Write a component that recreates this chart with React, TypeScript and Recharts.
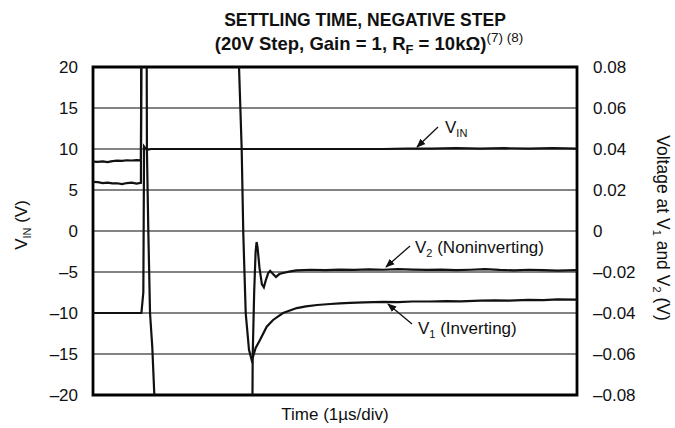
import React from "react";
import { CartesianGrid, Line, LineChart, ReferenceArea, XAxis, YAxis } from "recharts";

// time in divisions (1 µs/div), left axis in V, right axis in V
const timeTicks = [0, 1, 2, 3, 4, 5, 6, 7, 8, 9, 10];
const vinTicks = [-20, -15, -10, -5, 0, 5, 10, 15, 20];
const outTicks = [-0.08, -0.06, -0.04, -0.02, 0, 0.02, 0.04, 0.06, 0.08];

const vinTime = [0, 0.5, 1.0, 1.04, 1.055, 1.08, 1.12, 1.2, 2, 3, 4, 5, 6, 6.5, 7, 7.5, 8, 8.5, 9, 9.5, 10];
const vinVolts = [-10, -10, -10, -7.5, 10.3, 10.1, 9.9, 10, 10, 10, 10, 10, 10, 10.05, 10.05, 10.1, 10.05, 10.1, 10.05, 10.1, 10.05];

// V1 (inverting)
const v1Time = [
  0, 0.1, 0.2, 0.3, 0.4, 0.5, 0.6, 0.7, 0.8, 0.9, 0.99, 1.0, 3.0, 3.017, 3.072, 3.105, 3.155, 3.223, 3.279,
  3.31, 3.36, 3.45, 3.589, 3.72, 3.926, 4.21, 4.4, 4.63, 4.9, 5.1, 5.31, 5.6, 6.0, 6.3, 6.6, 6.96, 7.3, 7.6,
  8.0, 8.3, 8.6, 9.0, 9.3, 9.6, 10,
];
const v1Volts = [
  0.024, 0.0238, 0.0234, 0.0236, 0.0232, 0.0233, 0.0229, 0.0234, 0.0236, 0.0231, 0.0235, 0.1, 0.1, 0.08, 0.04,
  -0.001, -0.04, -0.058, -0.063, -0.061, -0.057, -0.0532, -0.0467, -0.0434, -0.04, -0.0376, -0.0368, -0.0361,
  -0.0356, -0.0353, -0.0351, -0.0348, -0.0346, -0.0347, -0.0344, -0.0344, -0.0342, -0.0343, -0.034, -0.0338,
  -0.034, -0.0336, -0.0337, -0.0334, -0.0335,
];

// V2 (noninverting)
const v2Time = [
  0, 0.1, 0.2, 0.3, 0.4, 0.5, 0.6, 0.7, 0.8, 0.9, 0.99, 1.0, 1.1, 1.11, 1.114, 1.143, 1.178, 1.225, 1.267,
  1.3, 3.29, 3.3, 3.33, 3.36, 3.38, 3.4, 3.44, 3.49, 3.53, 3.57, 3.62, 3.66, 3.72, 3.78, 3.85, 3.93, 4.05,
  4.2, 4.5, 4.8, 5.1, 5.4, 5.7, 6.0, 6.3, 6.6, 6.9, 7.2, 7.5, 7.8, 8.1, 8.4, 8.7, 9.0, 9.3, 9.6, 10,
];
const v2Volts = [
  0.0338, 0.0337, 0.034, 0.0336, 0.0341, 0.0343, 0.0342, 0.0345, 0.0344, 0.0346, 0.0345, 0.1, 0.1, 0.08, 0.04,
  0, -0.04, -0.0566, -0.08, -0.1, -0.1, -0.06, -0.03, -0.01, -0.0054, -0.008, -0.018, -0.026, -0.0275, -0.024,
  -0.0205, -0.0195, -0.021, -0.0224, -0.021, -0.0205, -0.0198, -0.0192, -0.0189, -0.0191, -0.0188, -0.019,
  -0.0187, -0.0189, -0.0186, -0.0188, -0.019, -0.0188, -0.0191, -0.0189, -0.0186, -0.019, -0.0192, -0.0189,
  -0.0191, -0.0193, -0.0191,
];

const toRows = (t: number[], v: number[]) => t.map((x, i) => ({ t: x, v: v[i] }));
const vinData = toRows(vinTime, vinVolts);
const v1Data = toRows(v1Time, v1Volts);
const v2Data = toRows(v2Time, v2Volts);

const dash = (s: string) => s.replace("-", "\u2013");
const FONT = "'Liberation Sans', Arial, Helvetica, sans-serif";
const tickStyle = { fill: "#111", fontSize: 17, fontFamily: FONT };

export default function App() {
  return (
    <div style={{ position: "absolute", left: 0, top: 0, width: 675, height: 428, background: "#fff", fontFamily: FONT }}>
      <LineChart width={675} height={428} margin={{ top: 67, right: 38, bottom: 0, left: 33 }}>
        <CartesianGrid yAxisId="left" stroke="#5a5a5a" strokeWidth={1.3} />
        <XAxis
          dataKey="t"
          type="number"
          domain={[0, 10]}
          ticks={timeTicks}
          allowDataOverflow
          tick={false}
          tickLine={false}
          axisLine={false}
          height={33}
        />
        <YAxis
          yAxisId="left"
          type="number"
          domain={[-20, 20]}
          ticks={vinTicks}
          allowDataOverflow
          width={60}
          tickLine={false}
          axisLine={false}
          tickMargin={9}
          tick={tickStyle}
          tickFormatter={(v) => dash(String(v))}
        />
        <YAxis
          yAxisId="right"
          orientation="right"
          type="number"
          domain={[-0.08, 0.08]}
          ticks={outTicks}
          allowDataOverflow
          width={60}
          tickLine={false}
          axisLine={false}
          tickMargin={10}
          tick={{ ...tickStyle, textAnchor: "start" }}
          tickFormatter={(v) => (v === 0 ? "0" : dash(Number(v).toFixed(2)))}
        />
        <Line yAxisId="left" data={vinData} dataKey="v" type="linear" stroke="#111" strokeWidth={2.2} dot={false} isAnimationActive={false} />
        <Line yAxisId="right" data={v1Data} dataKey="v" type="linear" stroke="#111" strokeWidth={2.2} dot={false} isAnimationActive={false} />
        <Line yAxisId="right" data={v2Data} dataKey="v" type="linear" stroke="#111" strokeWidth={2.2} dot={false} isAnimationActive={false} />
        <ReferenceArea yAxisId="left" x1={0} x2={10} y1={-20} y2={20} fill="none" stroke="#000" strokeWidth={2.8} />
      </LineChart>
      <svg width={675} height={428} style={{ position: "absolute", left: 0, top: 0, pointerEvents: "none" }} fontFamily={FONT}>
        <defs>
          <marker id="ah" viewBox="0 0 10 10" refX="9" refY="5" markerWidth="7" markerHeight="7" orient="auto">
            <path d="M0,1 L10,5 L0,9 z" fill="#111" />
          </marker>
        </defs>
        <text x={365} y={26} textAnchor="middle" fontWeight="bold" fontSize={17.5} fill="#111">
          SETTLING TIME, NEGATIVE STEP
        </text>
        <text x={369} y={50} textAnchor="middle" fontWeight="bold" fontSize={18.5} fill="#111">
          (20V Step, Gain = 1, R<tspan dy={4} fontSize={13}>F</tspan>
          <tspan dy={-4}> = 10kΩ)</tspan>
          <tspan dy={-8} fontSize={13.5} fontWeight="normal">(7)</tspan>
          <tspan fontSize={13.5} fontWeight="normal"> (8)</tspan>
        </text>
        <text transform="translate(27,225) rotate(-90)" textAnchor="middle" fontSize={17} fill="#111">
          V<tspan dy={4} fontSize={11}>IN</tspan>
          <tspan dy={-4}> (V)</tspan>
        </text>
        <text transform="translate(657,228) rotate(90)" textAnchor="middle" fontSize={17.5} fill="#111">
          Voltage at V<tspan dy={4} fontSize={11}>1</tspan>
          <tspan dy={-4}> and V</tspan>
          <tspan dy={4} fontSize={11}>2</tspan>
          <tspan dy={-4}> (V)</tspan>
        </text>
        <text x={335} y={420} textAnchor="middle" fontSize={17} fill="#111">
          Time (1µs/div)
        </text>
        <text x={445} y={133} fontSize={17} fill="#111">
          V<tspan dy={4} fontSize={11}>IN</tspan>
        </text>
        <line x1={438} y1={127} x2={417} y2={147} stroke="#111" strokeWidth={1.3} markerEnd="url(#ah)" />
        <text x={415} y={253} fontSize={17} fill="#111">
          V<tspan dy={4} fontSize={11}>2</tspan>
          <tspan dy={-4}> (Noninverting)</tspan>
        </text>
        <line x1={410} y1={246} x2={386} y2={267} stroke="#111" strokeWidth={1.3} markerEnd="url(#ah)" />
        <text x={418} y={334} fontSize={17} fill="#111">
          V<tspan dy={4} fontSize={11}>1</tspan>
          <tspan dy={-4}> (Inverting)</tspan>
        </text>
        <line x1={412} y1={324} x2={388} y2={304} stroke="#111" strokeWidth={1.3} markerEnd="url(#ah)" />
      </svg>
    </div>
  );
}
